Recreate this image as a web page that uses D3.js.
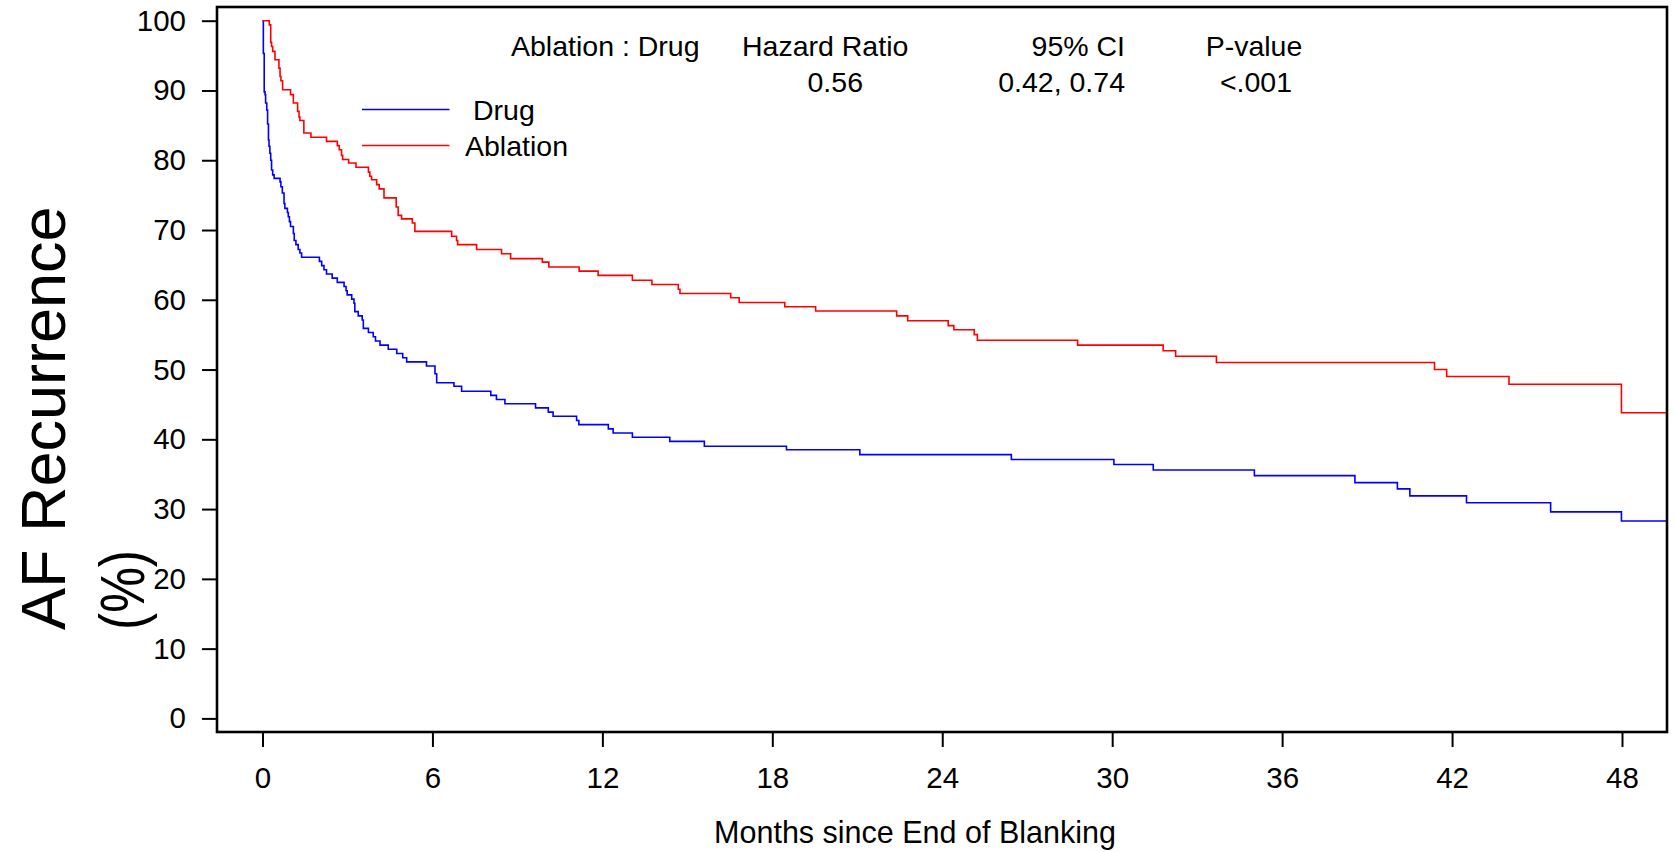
<!DOCTYPE html>
<html>
<head>
<meta charset="utf-8">
<script src="https://cdn.jsdelivr.net/npm/d3@7"></script>
<style>
  html, body { margin: 0; padding: 0; background: #fff; }
  svg { display: block; }
  text { font-family: "Liberation Sans", Arial, Helvetica, sans-serif; fill: #000; }
</style>
</head>
<body>
<svg id="chart" width="1675" height="852"></svg>
<script>
// ---------- data ----------
const drugTimes = [0, 0.03, 0.06, 0.09, 0.11, 0.15, 0.18, 0.21, 0.23, 0.26, 0.29, 0.32, 0.36, 0.41, 0.62, 0.65, 0.70, 0.76, 0.79, 0.88, 0.91, 0.95, 0.99, 1.09, 1.12, 1.18, 1.26, 1.32, 1.38, 2.01, 2.09, 2.17, 2.26, 2.46, 2.64, 2.88, 2.95, 2.99, 3.15, 3.23, 3.26, 3.38, 3.52, 3.56, 3.74, 3.91, 3.99, 4.15, 4.44, 4.74, 4.95, 5.09, 5.79, 6.09, 6.15, 6.76, 7.03, 8.06, 8.26, 8.56, 9.64, 10.09, 10.26, 11.09, 11.17, 12.21, 12.38, 13.06, 14.38, 15.60, 18.50, 21.09, 26.44, 30.06, 31.45, 35.02, 38.57, 40.07, 40.51, 42.51, 45.48, 47.98, 49.6];
const drugValues = [100, 95.3, 89.8, 89.4, 88.2, 87.2, 85.2, 82.9, 82.0, 81.0, 80.0, 78.6, 77.9, 77.4, 76.9, 76.2, 75.3, 73.8, 73.1, 72.5, 71.9, 71.2, 70.5, 69.5, 68.5, 67.9, 67.2, 66.7, 66.1, 65.5, 64.9, 64.3, 63.7, 63.1, 62.5, 61.9, 61.3, 60.7, 60.1, 59.5, 58.3, 57.7, 57.1, 55.9, 55.3, 54.7, 54.1, 53.5, 52.9, 52.3, 51.7, 51.1, 50.5, 49.4, 48.1, 47.6, 46.9, 46.3, 45.7, 45.1, 44.5, 43.9, 43.3, 42.7, 42.1, 41.5, 40.9, 40.3, 39.7, 39.0, 38.5, 37.8, 37.1, 36.4, 35.6, 34.8, 33.8, 32.9, 31.9, 30.9, 29.6, 28.3, 28.3];

const ablationTimes = [0, 0.24, 0.29, 0.32, 0.36, 0.44, 0.58, 0.62, 0.65, 0.71, 0.99, 1.09, 1.24, 1.29, 1.32, 1.46, 1.71, 2.26, 2.64, 2.71, 2.79, 2.83, 3.04, 3.30, 3.74, 3.79, 3.85, 4.03, 4.12, 4.29, 4.72, 4.79, 4.91, 5.29, 5.38, 6.68, 6.85, 6.89, 7.56, 8.44, 8.76, 9.88, 10.11, 11.18, 11.85, 13.06, 13.75, 14.68, 14.74, 16.53, 16.83, 18.44, 19.53, 22.39, 22.78, 24.21, 24.41, 25.13, 25.24, 28.78, 31.80, 32.24, 33.68, 41.38, 41.81, 44.01, 47.98, 49.6];
const ablationValues = [100, 99.4, 96.9, 96.3, 95.6, 94.4, 93.2, 92.0, 91.4, 90.1, 89.4, 88.2, 87.0, 86.2, 85.7, 83.9, 83.3, 82.7, 82.1, 81.5, 80.7, 80.1, 79.6, 79.0, 78.3, 77.7, 77.2, 76.5, 75.9, 74.6, 73.3, 72.1, 71.6, 71.0, 69.8, 69.1, 68.5, 67.9, 67.2, 66.6, 65.9, 65.4, 64.7, 64.1, 63.5, 62.8, 62.2, 61.5, 60.9, 60.3, 59.6, 59.0, 58.4, 57.7, 57.0, 56.3, 55.7, 55.0, 54.2, 53.5, 52.7, 51.9, 51.0, 50.0, 49.0, 47.9, 43.8, 43.8];

const seriesNames = ["Drug", "Ablation"];
const seriesColors = ["#0000ff", "#ff0000"];
const xTicks = [0, 6, 12, 18, 24, 30, 36, 42, 48];
const yTicks = [0, 10, 20, 30, 40, 50, 60, 70, 80, 90, 100];
const statsHeader = ["Ablation : Drug", "Hazard Ratio", "95% CI", "P-value"];
const statsValues = ["", "0.56", "0.42, 0.74", "<.001"];
const xTitle = "Months since End of Blanking";
const yTitleLines = ["AF Recurrence", "(%)"];

// ---------- layout ----------
const frame = { left: 217, right: 1667, top: 7, bottom: 732 };
const svg = d3.select("#chart");

const x = d3.scaleLinear().domain([0, 48]).range([262.5, 1622]);
const y = d3.scaleLinear().domain([0, 100]).range([718.4, 20.7]);

// curves
const line = d3.line().x(d => x(d[0])).y(d => y(d[1])).curve(d3.curveStepAfter);
const series = [
  d3.zip(drugTimes, drugValues),
  d3.zip(ablationTimes, ablationValues)
];
svg.append("g").selectAll("path").data(series).join("path")
  .attr("d", line)
  .attr("fill", "none")
  .attr("stroke", (d, i) => seriesColors[i])
  .attr("stroke-width", 1.6);

// frame
svg.append("rect")
  .attr("x", frame.left).attr("y", frame.top)
  .attr("width", frame.right - frame.left).attr("height", frame.bottom - frame.top)
  .attr("fill", "none").attr("stroke", "#000").attr("stroke-width", 2.6);

// axes
const xAxis = svg.append("g")
  .attr("transform", `translate(0,${frame.bottom})`)
  .call(d3.axisBottom(x).tickValues(xTicks).tickSize(15).tickPadding(20).tickFormat(d3.format("d")));
const yAxis = svg.append("g")
  .attr("transform", `translate(${frame.left},0)`)
  .call(d3.axisLeft(y).tickValues(yTicks).tickSize(15).tickPadding(16).tickFormat(d3.format("d")));
[xAxis, yAxis].forEach(g => {
  g.select(".domain").remove();
  g.selectAll(".tick line").attr("stroke", "#000").attr("stroke-width", 2);
  g.selectAll(".tick text")
    .attr("font-family", '"Liberation Sans", Arial, sans-serif')
    .attr("font-size", 29.5).attr("fill", "#000");
});

// axis titles
svg.append("text")
  .attr("x", 915).attr("y", 843)
  .attr("text-anchor", "middle")
  .attr("font-size", 30.5)
  .text(xTitle);

const yTitleBase = [65, 144];
const yTitleLen = [null, 80];
svg.append("g").selectAll("text").data(yTitleLines).join("text")
  .attr("transform", (d, i) => `translate(${yTitleBase[i]},630) rotate(-90)`)
  .attr("text-anchor", "start")
  .attr("font-size", 63)
  .each(function (d, i) {
    if (yTitleLen[i]) d3.select(this).attr("textLength", yTitleLen[i]).attr("lengthAdjust", "spacingAndGlyphs");
  })
  .text(d => d);

// statistics table
const colX = [511, 742, 1125, 1254];
const colAnchor = ["start", "start", "end", "middle"];
const valX = [511, 863, 1125, 1256];
const valAnchor = ["start", "end", "end", "middle"];
svg.append("g").selectAll("text").data(statsHeader).join("text")
  .attr("x", (d, i) => colX[i]).attr("y", 56)
  .attr("text-anchor", (d, i) => colAnchor[i])
  .attr("font-size", 28.5)
  .text(d => d);
svg.append("g").selectAll("text").data(statsValues).join("text")
  .attr("x", (d, i) => valX[i]).attr("y", 92)
  .attr("text-anchor", (d, i) => valAnchor[i])
  .attr("font-size", 28.5)
  .text(d => d);

// legend
const legendY = [109.5, 145.5];
const legendTextX = [473, 465];
const lg = svg.append("g");
lg.selectAll("line").data(seriesNames).join("line")
  .attr("x1", 362).attr("x2", 449.5)
  .attr("y1", (d, i) => legendY[i]).attr("y2", (d, i) => legendY[i])
  .attr("stroke", (d, i) => seriesColors[i]).attr("stroke-width", 1.5);
lg.selectAll("text").data(seriesNames).join("text")
  .attr("x", (d, i) => legendTextX[i])
  .attr("y", (d, i) => legendY[i] + 10)
  .attr("font-size", 28.5)
  .text(d => d);
</script>
</body>
</html>
